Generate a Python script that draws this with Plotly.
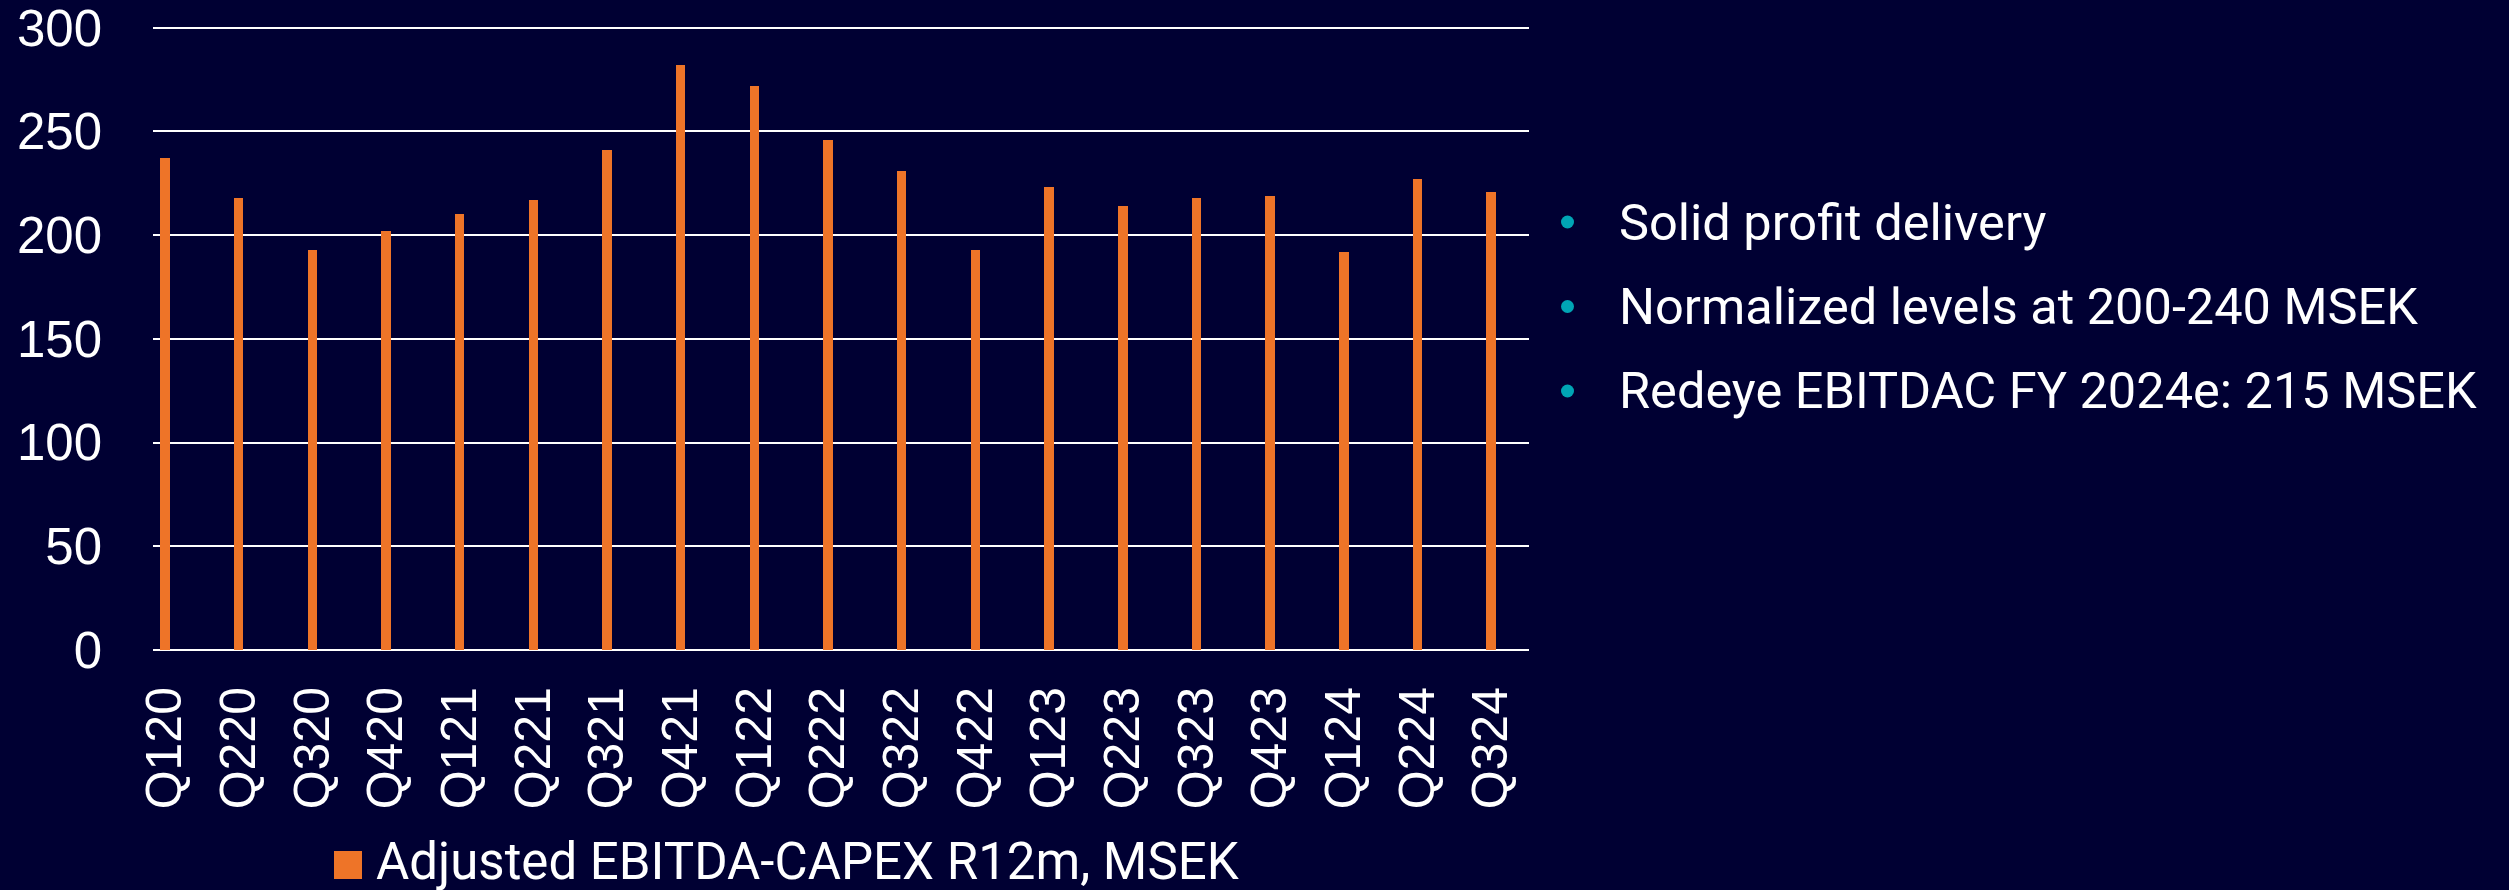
import plotly.graph_objects as go

# Quarterly series (rolling 12 months), MSEK
quarters = ["Q120", "Q220", "Q320", "Q420", "Q121", "Q221", "Q321", "Q421",
            "Q122", "Q222", "Q322", "Q422", "Q123", "Q223", "Q323", "Q423",
            "Q124", "Q224", "Q324"]
ebitda_capex = [237, 218, 193, 202, 210, 217, 241, 282,
                272, 246, 231, 193, 223, 214, 218, 219,
                192, 227, 221]
series_name = "Adjusted EBITDA-CAPEX R12m, MSEK"
y_ticks = [0, 50, 100, 150, 200, 250, 300]
bullet_points = ["Solid profit delivery",
                 "Normalized levels at 200-240 MSEK",
                 "Redeye EBITDAC FY 2024e: 215 MSEK"]

BG = "#000033"
ORANGE = "#EE7428"
TEAL = "#00A5B5"
WHITE = "#FFFFFF"

W, H = 2509, 890
L, R, T, B = 153, 980, 26, 240
PW, PH = W - L - R, H - T - B


def px_x(px):
    return (px - L) / PW


def px_y(py):
    return (H - B - py) / PH


fig = go.Figure()
fig.add_trace(go.Bar(
    x=quarters, y=ebitda_capex, name=series_name,
    marker=dict(color=ORANGE, line=dict(width=0)),
    width=0.13, showlegend=False,
))

fig.update_layout(
    width=W, height=H,
    margin=dict(l=L, r=R, t=T, b=B, pad=0, autoexpand=False),
    paper_bgcolor=BG, plot_bgcolor=BG,
    font=dict(family="Liberation Sans, Arial, sans-serif", color=WHITE, size=48),
    xaxis=dict(
        type="category", range=[-0.163, 18.515], automargin=False,
        tickangle=-90, showgrid=False, zeroline=False, showline=False,
        ticks="", ticklabelstandoff=26,
        tickfont=dict(family="Liberation Sans, Arial, sans-serif", size=50, color=WHITE),
    ),
    yaxis=dict(
        range=[0, 300.8], tickvals=y_ticks, ticktext=[str(v) for v in y_ticks],
        automargin=False,
        showgrid=True, gridcolor=WHITE, gridwidth=2,
        zeroline=True, zerolinecolor=WHITE, zerolinewidth=2,
        showline=False, ticks="", ticklabelstandoff=50,
        ticklabeloverflow="allow",
        tickfont=dict(family="Liberation Sans, Arial, sans-serif", size=51, color=WHITE),
    ),
    bargap=0,
)

# Legend swatch and label below the axis
fig.add_shape(type="rect", xref="paper", yref="paper",
              x0=px_x(334), x1=px_x(362), y0=px_y(879), y1=px_y(851),
              fillcolor=ORANGE, line=dict(width=0))
fig.add_annotation(xref="paper", yref="paper", x=px_x(374), y=px_y(861),
                   xanchor="left", yanchor="middle", showarrow=False,
                   text=series_name,
                   font=dict(family="Roboto, sans-serif", size=51, color=WHITE))

# Bulleted commentary to the right of the chart
line_centres = [222, 306.5, 391]
for text, yc in zip(bullet_points, line_centres):
    fig.add_shape(type="circle", xref="paper", yref="paper",
                  x0=px_x(1561), x1=px_x(1574), y0=px_y(yc + 6.5), y1=px_y(yc - 6.5),
                  fillcolor=TEAL, line=dict(width=0))
    fig.add_annotation(xref="paper", yref="paper", x=px_x(1617), y=px_y(yc),
                       xanchor="left", yanchor="middle", showarrow=False,
                       text=text,
                       font=dict(family="Roboto, sans-serif", size=50.5, color=WHITE))

fig.write_html("out.html")
